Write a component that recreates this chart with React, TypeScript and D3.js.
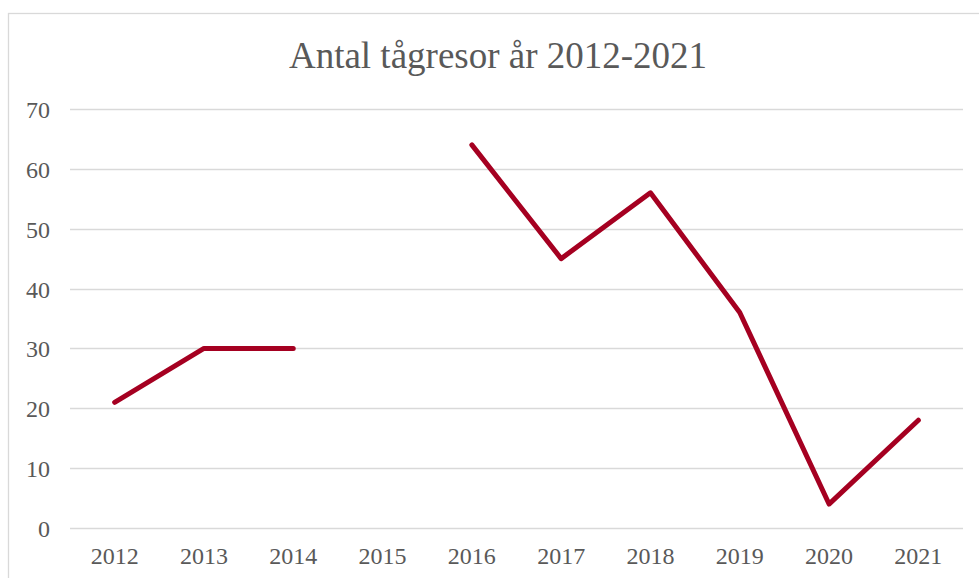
import React, { useEffect, useRef } from "react";
import * as d3 from "d3";

const years = ["2012", "2013", "2014", "2015", "2016", "2017", "2018", "2019", "2020", "2021"];
const trips: (number | null)[] = [21, 30, 30, null, 64, 45, 56, 36, 4, 18];
const yTicks = [0, 10, 20, 30, 40, 50, 60, 70];
const title = "Antal tågresor år 2012-2021";

const App: React.FC = () => {
  const svgRef = useRef<SVGSVGElement>(null);

  useEffect(() => {
    if (!svgRef.current) return;
    const svg = d3.select(svgRef.current);
    svg.selectAll("*").remove();

    const width = 979;
    const height = 578;
    const font = "'Liberation Serif', 'Times New Roman', serif";

    svg.append("rect")
      .attr("width", width).attr("height", height).attr("fill", "#fff");

    // chart frame (right and bottom run off the picture)
    svg.append("rect")
      .attr("x", 8.5).attr("y", 13.5)
      .attr("width", 1000).attr("height", 600)
      .attr("fill", "none").attr("stroke", "#d9d9d9").attr("stroke-width", 1.3);

    const x = d3.scaleBand().domain(years).range([70, 963]);
    const y = d3.scaleLinear().domain([0, 70]).range([528, 109]);

    svg.append("g")
      .selectAll("line")
      .data(yTicks)
      .enter()
      .append("line")
      .attr("x1", 70).attr("x2", 963)
      .attr("y1", (d) => Math.round(y(d)) + 0.5)
      .attr("y2", (d) => Math.round(y(d)) + 0.5)
      .attr("stroke", "#d9d9d9").attr("stroke-width", 1.3);

    svg.append("g")
      .selectAll("text")
      .data(yTicks)
      .enter()
      .append("text")
      .attr("x", 50)
      .attr("y", (d) => y(d) + 9)
      .attr("text-anchor", "end")
      .style("font-family", font).style("font-size", "24px").style("fill", "#595959")
      .text((d) => d);

    svg.append("g")
      .selectAll("text")
      .data(years)
      .enter()
      .append("text")
      .attr("x", (d) => (x(d) || 0) + x.bandwidth() / 2)
      .attr("y", 564)
      .attr("text-anchor", "middle")
      .style("font-family", font).style("font-size", "24px").style("fill", "#595959")
      .text((d) => d);

    const data = years.map((yr, i) => ({ yr, v: trips[i] }));
    const line = d3.line<{ yr: string; v: number | null }>()
      .defined((d) => d.v !== null)
      .x((d) => (x(d.yr) || 0) + x.bandwidth() / 2)
      .y((d) => y(d.v as number));

    svg.append("path")
      .datum(data)
      .attr("d", line)
      .attr("fill", "none")
      .attr("stroke", "#a50021")
      .attr("stroke-width", 5)
      .attr("stroke-linejoin", "round")
      .attr("stroke-linecap", "round");

    svg.append("text")
      .attr("x", 498).attr("y", 68)
      .attr("text-anchor", "middle")
      .style("font-family", font).style("font-size", "37px").style("fill", "#595959")
      .text(title);
  }, []);

  return (
    <svg
      ref={svgRef}
      width={979}
      height={578}
      style={{ position: "absolute", left: 0, top: 0 }}
    />
  );
};

export default App;
